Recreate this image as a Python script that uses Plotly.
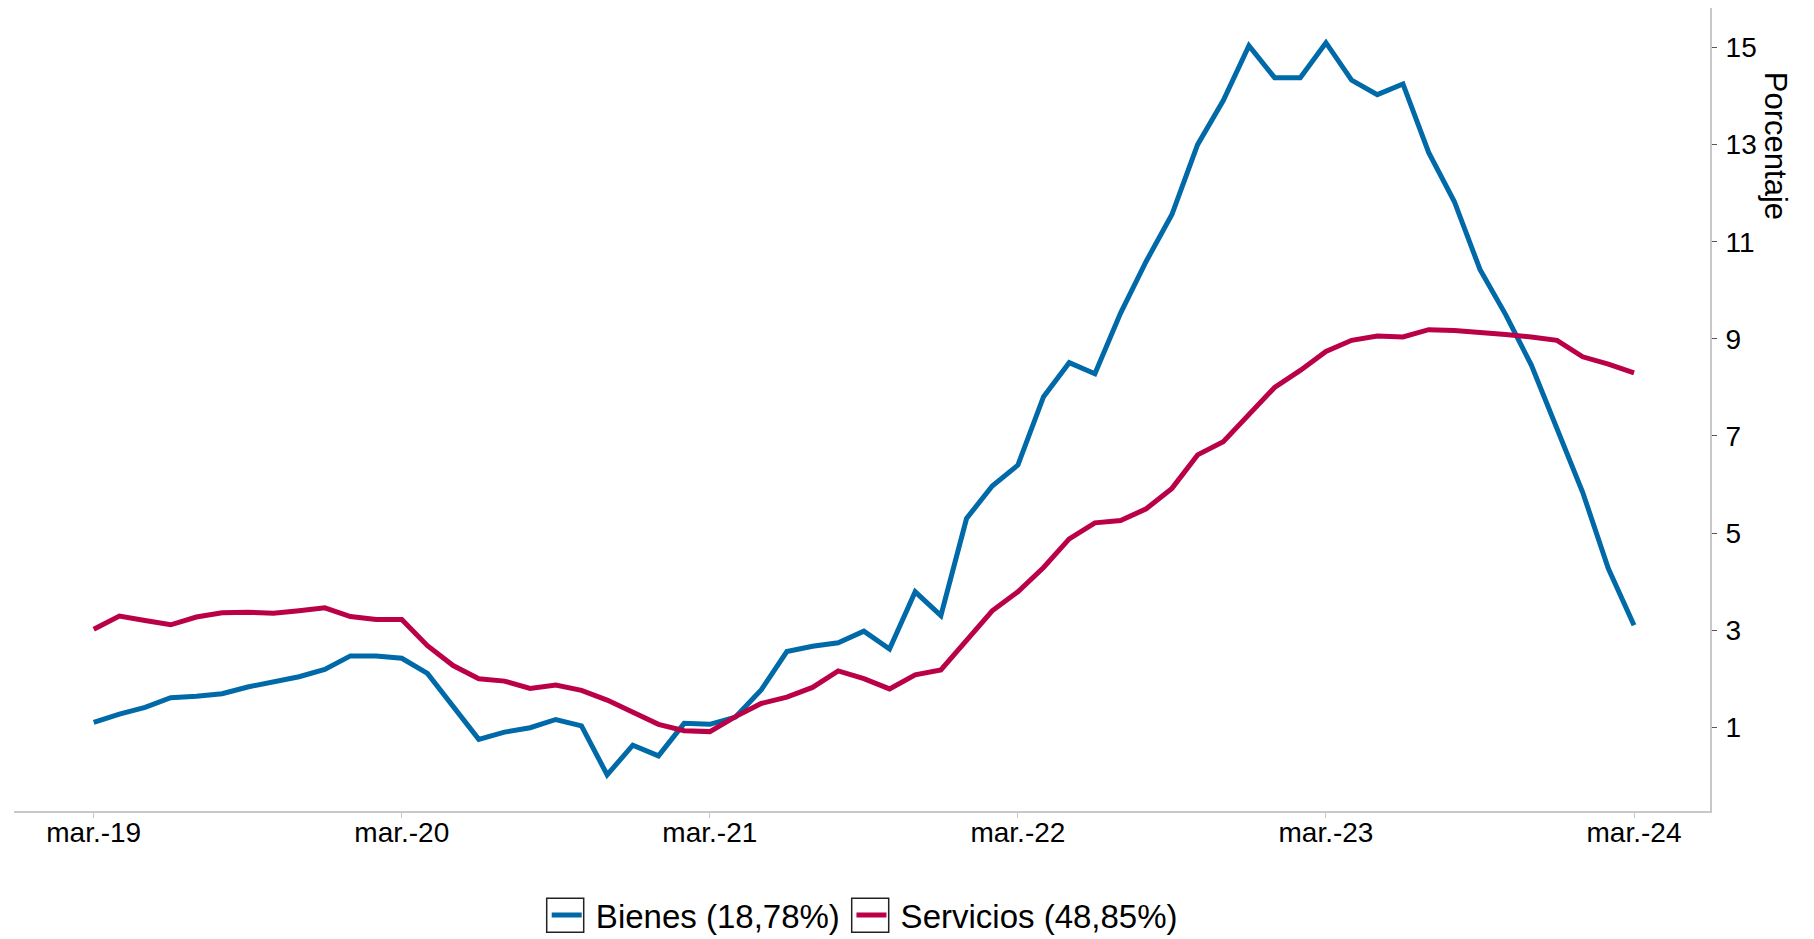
import plotly.graph_objects as go

meses_abr = ["ene.", "feb.", "mar.", "abr.", "may.", "jun.", "jul.", "ago.", "sept.", "oct.", "nov.", "dic."]
fechas = []
for k in range(61):
    m = (2 + k) % 12
    y = 19 + (2 + k) // 12
    fechas.append(f"{meses_abr[m]}-{y}")

bienes = [1.10, 1.27, 1.41, 1.61, 1.64, 1.69, 1.83, 1.93, 2.04, 2.19,
          2.47, 2.47, 2.42, 2.11, 1.41, 0.75, 0.90, 0.99, 1.16, 1.03,
          0.02, 0.63, 0.41, 1.08, 1.06, 1.21, 1.77, 2.56, 2.67, 2.74,
          2.98, 2.61, 3.79, 3.30, 5.30, 5.97, 6.40, 7.81, 8.51, 8.28,
          9.53, 10.60, 11.56, 13.00, 13.91, 15.04, 14.38, 14.38, 15.10, 14.33,
          14.03, 14.25, 12.84, 11.83, 10.43, 9.50, 8.46, 7.18, 5.84, 4.27,
          3.10]
servicios = [3.02, 3.29, 3.20, 3.11, 3.27, 3.36, 3.37, 3.35, 3.40, 3.46,
             3.28, 3.22, 3.22, 2.68, 2.27, 2.00, 1.95, 1.80, 1.87, 1.76,
             1.56, 1.31, 1.06, 0.93, 0.91, 1.22, 1.49, 1.62, 1.82, 2.16,
             2.00, 1.79, 2.08, 2.18, 2.80, 3.40, 3.79, 4.29, 4.88, 5.21,
             5.26, 5.50, 5.92, 6.61, 6.88, 7.43, 8.00, 8.35, 8.74, 8.97,
             9.06, 9.04, 9.19, 9.17, 9.14, 9.09, 9.04, 8.97, 8.63, 8.48,
             8.30]

x_ticks = ["mar.-19", "mar.-20", "mar.-21", "mar.-22", "mar.-23", "mar.-24"]
y_ticks = [1, 3, 5, 7, 9, 11, 13, 15]

FONT = "Liberation Sans, Arial, sans-serif"
W, H = 1798, 935
ML, MR, MT, MB = 6, 96, 0, 124
PW = W - ML - MR
PH = H - MT - MB

fig = go.Figure()
fig.add_trace(go.Scatter(x=fechas, y=bienes, mode="lines",
                         name="\u00a0Bienes (18,78%)\u2009",
                         line=dict(color="#0069A8", width=5)))
fig.add_trace(go.Scatter(x=fechas, y=servicios, mode="lines",
                         name="\u00a0Servicios (48,85%)",
                         line=dict(color="#BA0047", width=5)))

# legend placement (pixels inside the figure)
leg_left = 538.7
leg_x = (leg_left - ML) / PW
leg_cy = 916.2
leg_y = (PH - (leg_cy - MT)) / PH

fig.update_layout(
    width=W, height=H,
    margin=dict(l=ML, r=MR, t=MT, b=MB),
    paper_bgcolor="white", plot_bgcolor="white",
    font=dict(family=FONT, color="black", size=28),
    showlegend=True,
    legend=dict(orientation="h", x=leg_x, xanchor="left", y=leg_y, yanchor="middle",
                font=dict(size=33, family=FONT, color="black"),
                itemwidth=30, traceorder="normal", bgcolor="rgba(0,0,0,0)"),
    xaxis=dict(type="category", tickmode="array", tickvals=x_ticks, ticktext=x_ticks,
               range=[-3.105, 62.96], showgrid=False, zeroline=False,
               showline=True, linecolor="#c8c8c8", linewidth=2,
               ticks="outside", ticklen=5, tickcolor="#c8c8c8", tickwidth=1,
               ticklabelstandoff=-10,
               tickfont=dict(size=28, family=FONT, color="black")),
    yaxis=dict(side="right", range=[-0.725, 15.815], tickvals=y_ticks,
               showgrid=False, zeroline=False,
               showline=True, linecolor="#c8c8c8", linewidth=2,
               ticks="outside", ticklen=5, tickcolor="#555555", tickwidth=1,
               ticklabelstandoff=3,
               tickfont=dict(size=28, family=FONT, color="black")),
)

fig.add_annotation(text="Porcentaje", textangle=90, xref="paper", yref="paper",
                   x=1.0, xanchor="left", xshift=46, y=0.829, yanchor="middle",
                   showarrow=False, font=dict(size=31, family=FONT, color="black"))

# boxes around the legend keys
def px_to_paper_x(px):
    return (px - ML) / PW

def px_to_paper_y(py):
    return (PH - (py - MT)) / PH

for left in (leg_left, leg_left + 305):
    fig.add_shape(type="rect", xref="paper", yref="paper",
                  x0=px_to_paper_x(left), x1=px_to_paper_x(left + 37),
                  y0=px_to_paper_y(leg_cy - 17.2), y1=px_to_paper_y(leg_cy + 17.2),
                  line=dict(color="#222222", width=1.5), fillcolor="rgba(0,0,0,0)")

fig.write_html("out.html", config={"displayModeBar": False})
